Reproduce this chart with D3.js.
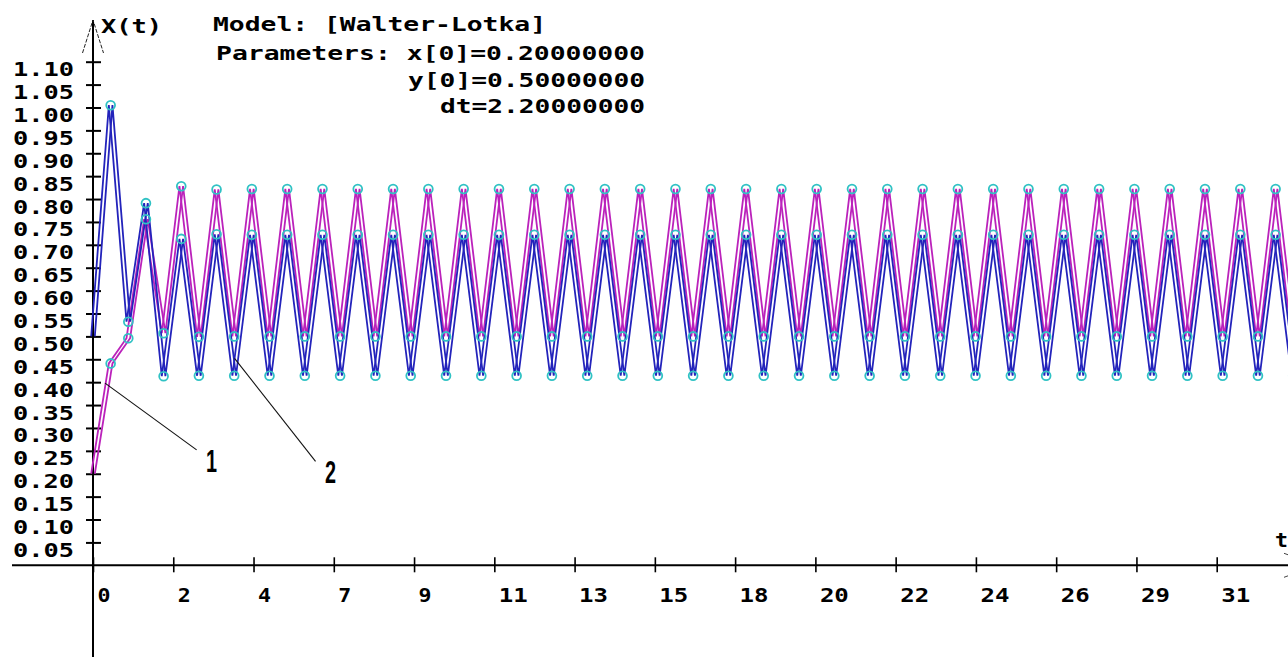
<!DOCTYPE html>
<html>
<head>
<meta charset="utf-8">
<script src="https://cdn.jsdelivr.net/npm/d3@7"></script>
<style>
  html, body { margin: 0; padding: 0; background: #fff; }
  svg { display: block; }
  .mono { font-family: "DejaVu Sans Mono", "Liberation Mono", monospace; font-weight: bold; font-size: 19px; fill: #000; }
</style>
</head>
<body>
<svg id="chart" width="1288" height="657"></svg>
<script>
// ---- data: Walter-Lotka model, x(t) (curve 1) and y(t) (curve 2) per time step ----
const tStep = 0.4838;

const seriesX = [
  0.200, 0.441, 0.496, 0.756, 0.507, 0.828, 0.499, 0.821,
  0.500, 0.822, 0.500, 0.822, 0.500, 0.822, 0.500, 0.822, 0.500, 0.822,
  0.500, 0.822, 0.500, 0.822, 0.500, 0.822, 0.500, 0.822, 0.500, 0.822,
  0.500, 0.822, 0.500, 0.822, 0.500, 0.822, 0.500, 0.822, 0.500, 0.822,
  0.500, 0.822, 0.500, 0.822, 0.500, 0.822, 0.500, 0.822, 0.500, 0.822,
  0.500, 0.822, 0.500, 0.822, 0.500, 0.822, 0.500, 0.822, 0.500, 0.822,
  0.500, 0.822, 0.500, 0.822, 0.500, 0.822, 0.500, 0.822, 0.500, 0.822,
  0.500
];

const seriesY = [
  0.500, 1.005, 0.532, 0.791, 0.413, 0.713, 0.414, 0.723,
  0.414, 0.722, 0.414, 0.722, 0.414, 0.722, 0.414, 0.722, 0.414, 0.722,
  0.414, 0.722, 0.414, 0.722, 0.414, 0.722, 0.414, 0.722, 0.414, 0.722,
  0.414, 0.722, 0.414, 0.722, 0.414, 0.722, 0.414, 0.722, 0.414, 0.722,
  0.414, 0.722, 0.414, 0.722, 0.414, 0.722, 0.414, 0.722, 0.414, 0.722,
  0.414, 0.722, 0.414, 0.722, 0.414, 0.722, 0.414, 0.722, 0.414, 0.722,
  0.414, 0.722, 0.414, 0.722, 0.414, 0.722, 0.414, 0.722, 0.414, 0.722,
  0.414
];

const yTickValues = [0.05, 0.10, 0.15, 0.20, 0.25, 0.30, 0.35, 0.40, 0.45, 0.50, 0.55,
                     0.60, 0.65, 0.70, 0.75, 0.80, 0.85, 0.90, 0.95, 1.00, 1.05, 1.10];
const yTickLabels = ["0.05", "0.10", "0.15", "0.20", "0.25", "0.30", "0.35", "0.40", "0.45", "0.50", "0.55",
                     "0.60", "0.65", "0.70", "0.75", "0.80", "0.85", "0.90", "0.95", "1.00", "1.05", "1.10"];

const xTickValues = [0, 2.2, 4.4, 6.6, 8.8, 11.0, 13.2, 15.4, 17.6, 19.8, 22.0, 24.2, 26.4, 28.6, 30.8];
const xTickLabels = ["0", "2", "4", "7", "9", "11", "13", "15", "18", "20", "22", "24", "26", "29", "31"];

const headerLines = [
  { text: "Model: [Walter-Lotka]", anchor: "start" },
  { text: "Parameters: x[0]=0.20000000", anchor: "end" },
  { text: "y[0]=0.50000000", anchor: "end" },
  { text: "dt=2.20000000", anchor: "end" }
];

// callouts: [t, value] where the pointer touches the curve, and the label text
const callouts = [
  { label: "1", from: [0.33, 0.398], to: [2.84, 0.252] },
  { label: "2", from: [3.88, 0.452], to: [6.1, 0.227] }
];

// ---- layout ----
const svg = d3.select("#chart");
const CHAR_W = 16;
const colX = "#bb22bb", colY = "#2323bb", colMark = "#30c2c4";

const x = d3.scaleLinear().domain([0, 30.8]).range([93, 1216.7]);
const y = d3.scaleLinear().domain([0, 1.1]).range([565.3, 61.7]);

function blockText(sel, str) {
  sel.text(str)
    .attr("textLength", str.length * CHAR_W - 3)
    .attr("lengthAdjust", "spacingAndGlyphs");
}

// axis lines
const x0 = x(0), y0 = y(0);
svg.append("line").attr("x1", 12).attr("x2", 1288).attr("y1", y0).attr("y2", y0)
  .attr("stroke", "#000").attr("stroke-width", 2);
svg.append("line").attr("x1", x0).attr("x2", x0).attr("y1", 20).attr("y2", 657)
  .attr("stroke", "#000").attr("stroke-width", 2);

// arrow heads
svg.append("path").attr("d", `M${x0 - 10.5},53 L${x0},20 L${x0 + 10.5},53`)
  .attr("fill", "none").attr("stroke", "#222").attr("stroke-width", 1).attr("stroke-dasharray", "4,1.5");
svg.append("path").attr("d", `M1284,${y0 - 12} L1317,${y0} L1284,${y0 + 12}`)
  .attr("fill", "none").attr("stroke", "#444").attr("stroke-width", 1);

// y axis ticks and labels
const yAxis = d3.axisLeft(y).tickValues(yTickValues).tickFormat((d, i) => yTickLabels[i]);
const gy = svg.append("g").attr("transform", `translate(${x0},0)`).call(yAxis);
gy.select(".domain").remove();
gy.selectAll(".tick line").attr("x1", -7).attr("x2", 8).attr("stroke", "#000").attr("stroke-width", 2);
gy.selectAll(".tick text")
  .attr("class", "mono").attr("font-family", null).attr("font-size", null)
  .attr("x", -19).attr("dy", null).attr("y", 14).attr("text-anchor", "end")
  .each(function (d, i) { blockText(d3.select(this), yTickLabels[i]); });

// x axis ticks and labels
const xAxis = d3.axisBottom(x).tickValues(xTickValues).tickFormat((d, i) => xTickLabels[i]);
const gx = svg.append("g").attr("transform", `translate(0,${y0})`).call(xAxis);
gx.select(".domain").remove();
gx.selectAll(".tick line").attr("y1", -8).attr("y2", 7).attr("stroke", "#000").attr("stroke-width", 1.6);
gx.selectAll(".tick text")
  .attr("class", "mono").attr("font-family", null).attr("font-size", null)
  .attr("x", 4).attr("dy", null).attr("y", 37).attr("text-anchor", "start")
  .each(function (d, i) { blockText(d3.select(this), xTickLabels[i]); });

// axis titles
blockText(svg.append("text").attr("class", "mono").attr("x", 101).attr("y", 33), "X(t)");
blockText(svg.append("text").attr("class", "mono").attr("x", 1275).attr("y", 547), "t");

// header block
const headY = [31, 60, 87, 113];
headerLines.forEach((h, i) => {
  const t = svg.append("text").attr("class", "mono")
    .attr("x", h.anchor === "start" ? 213 : 645).attr("y", headY[i])
    .attr("text-anchor", h.anchor);
  blockText(t, h.text);
});

// curves: drawn as a doubled stroke
const plot = svg.append("g");
const line = d3.line().x((d, i) => x(i * tStep)).y(d => y(d));
[[seriesX, colX], [seriesY, colY]].forEach(([vals, col]) => {
  [-1.8, 1.8].forEach(off => {
    plot.append("path").datum(vals)
      .attr("transform", `translate(${off},0)`)
      .attr("d", line)
      .attr("fill", "none").attr("stroke", col)
      .attr("stroke-width", 1.8).attr("stroke-linejoin", "miter");
  });
});

// sample markers (from the first step on)
[seriesX, seriesY].forEach(vals => {
  const pts = vals.map((v, i) => ({ t: i * tStep, v })).slice(1);
  plot.selectAll(null).data(pts).enter().append("circle")
    .attr("cx", d => x(d.t)).attr("cy", d => y(d.v))
    .attr("r", 4.4).attr("fill", "none")
    .attr("stroke", colMark).attr("stroke-width", 1.8);
});

// callouts
callouts.forEach(c => {
  svg.append("line")
    .attr("x1", x(c.from[0])).attr("y1", y(c.from[1]))
    .attr("x2", x(c.to[0])).attr("y2", y(c.to[1]))
    .attr("stroke", "#111").attr("stroke-width", 1.1);
  const lx = x(c.to[0]) + 15, ly = y(c.to[1]) + 22;
  svg.append("text")
    .attr("transform", `translate(${lx},${ly}) scale(0.62,1)`)
    .attr("text-anchor", "middle")
    .attr("font-family", "Liberation Sans, Arial, sans-serif")
    .attr("font-weight", "bold").attr("font-size", 32)
    .attr("fill", "#000")
    .text(c.label);
});
</script>
</body>
</html>
